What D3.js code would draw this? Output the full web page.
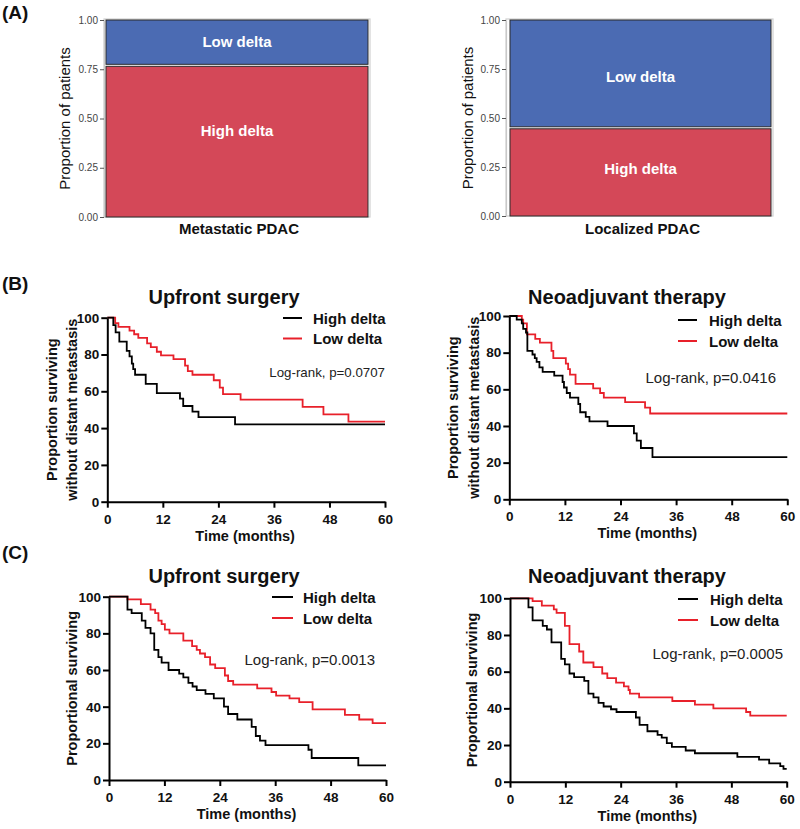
<!DOCTYPE html>
<html>
<head>
<meta charset="utf-8">
<script src="https://cdn.jsdelivr.net/npm/d3@7"></script>
<style>
  html, body { margin: 0; padding: 0; background: #fff; }
  svg { display: block; font-family: "Liberation Sans", Arial, Helvetica, sans-serif; }
</style>
</head>
<body>
<svg id="chart" width="800" height="829"></svg>
<script>
// ---------------- DATA ----------------
const panelLetters = ["(A)", "(B)", "(C)"];

// Panel A: mosaic (proportion of patients)
const mosaicCategories = ["Metastatic PDAC", "Localized PDAC"];
const highDeltaShare = [0.77, 0.45];
const lowDeltaShare = [0.23, 0.55];
const mosaicTicks = [0, 0.25, 0.5, 0.75, 1.0];
const mosaicTickLabels = ["0.00", "0.25", "0.50", "0.75", "1.00"];
const groupNames = ["High delta", "Low delta"];

// Panels B and C: Kaplan-Meier [month, percent surviving]
const kmTitles = ["Upfront surgery", "Neoadjuvant therapy", "Upfront surgery", "Neoadjuvant therapy"];
const kmPValues = ["Log-rank, p=0.0707", "Log-rank, p=0.0416", "Log-rank, p=0.0013", "Log-rank, p=0.0005"];
const kmYTitles = [["Proportion surviving", "without distant metastasis"], ["Proportional surviving"]];
const timeTicks = [0, 12, 24, 36, 48, 60];
const survivalTicks = [0, 20, 40, 60, 80, 100];
const xAxisTitle = "Time (months)";

const bUpfrontHigh = [[0,100],[1.3,96],[1.8,92],[2.6,87],[4.2,82],[4.8,79],[5.3,75],[5.6,72],[6.0,69],[8.3,64],[10.7,59],[15.7,56],[16.4,52],[18.4,49],[19.7,46],[27.6,42]];
const bUpfrontLow = [[0,100],[1.7,97],[2.4,95],[4.8,93],[5.8,91],[6.7,89],[8.6,86],[9.4,84],[10.7,81.5],[11.6,79.5],[14.3,77.5],[16.8,74],[17.4,71],[18.4,69],[23.0,66],[24.3,62],[25.0,58.5],[28.8,55.5],[42.2,51.5],[46.7,47.5],[52.1,43.5]];
const bNeoHigh = [[0,100],[1.6,98],[2.7,96],[3.0,93],[3.6,91],[3.9,81],[5.0,79],[5.5,77],[5.9,75],[6.5,72],[7.2,69.5],[9.7,67.5],[11.5,64],[11.8,61],[12.4,58],[13.1,55.5],[14.9,52],[15.3,47.5],[16.5,45],[17.3,42.5],[21.2,40],[26.9,36],[27.5,32],[28.4,28],[30.9,23]];
const bNeoLow = [[0,100],[2.7,98],[3.0,96],[3.8,90],[5.6,87.5],[6.6,85.5],[9.1,81],[9.5,77],[12.2,74],[12.7,71],[13.1,68],[14.3,63],[18.1,60.5],[19.6,58],[20.4,55.5],[25.0,53],[29.3,50],[30.4,46.8]];
const cUpfrontHigh = [[0,100],[4.0,93],[4.9,91],[7.1,87],[7.9,83],[9.0,80],[9.8,71],[10.7,67],[11.4,64],[12.9,60],[15.2,58],[16.1,56],[17.2,53],[18.1,51],[19.0,49],[20.9,47],[22.7,44.5],[24.9,40],[25.8,36],[27.8,33],[30.9,29],[31.8,24],[32.7,21.5],[33.9,19],[43.2,16.5],[43.9,12],[54.0,8]];
const cUpfrontLow = [[0,100],[4.0,98.5],[6.9,96],[9.0,93],[10.0,91],[10.7,87],[11.4,85],[12.1,82],[13.1,80],[16.1,76],[18.0,73],[19.0,71],[19.7,69],[20.8,67],[21.9,63],[23.0,61],[25.1,57],[25.8,54],[26.9,52],[32.1,50],[35.2,48],[36.2,46],[39.1,44.5],[41.2,42.5],[44.1,38.5],[51.1,35.5],[54.2,33],[57.1,31]];
const cNeoHigh = [[0,100],[4.0,95],[4.9,88],[7.1,85],[8.0,83],[9.0,76],[11.1,67],[11.9,64],[12.9,59],[13.9,57],[16.1,55],[17.0,48],[18.1,46],[19.2,43],[20.3,41],[21.9,39.5],[23.1,38],[27.3,35],[28.1,31],[29.8,27.5],[32.0,25.5],[32.9,24],[34.0,21],[35.1,19],[38.1,17],[40.1,15.5],[49.3,13.5],[54.0,12],[56.2,10],[58.6,8.5],[59.3,7]];
const cNeoLow = [[0,100],[4.9,98.5],[6.9,96],[9.5,94],[10.1,92],[11.9,85],[12.9,75],[15.0,71],[15.9,65],[18.1,62.5],[20.0,59],[21.1,56.5],[23.0,54],[24.7,52],[25.7,50],[26.0,48],[28.0,46],[35.2,44],[40.1,42],[44.1,40],[51.2,38],[52.1,36]];

// ---------------- DRAW ----------------
const svg = d3.select("#chart");
const FONT = '"Liberation Sans", Arial, Helvetica, sans-serif';
const BLUE = "#4b6bb3", RED = "#d44858", KM_RED = "#e8202a";

// panel letters
const letterY = [18.5, 290, 559];
panelLetters.forEach((t, i) => {
  svg.append("text").attr("x", 2).attr("y", letterY[i])
    .attr("font-size", 19).attr("font-weight", "bold").attr("fill", "#111").text(t);
});

// ---- Panel A mosaics ----
const mosaicLayout = [
  { axisX: 104, rectL: 106, rectR: 368, frameR: 370, top: 20, bottom: 217, yLabelX: 65, labelLow: 0.89, labelHigh: 0.44 },
  { axisX: 506, rectL: 510, rectR: 771, frameR: 773, top: 20, bottom: 216, yLabelX: 468, labelLow: 0.71, labelHigh: 0.24 }
];
mosaicCategories.forEach((cat, i) => {
  const L = mosaicLayout[i];
  const y = d3.scaleLinear().domain([0, 1]).range([L.bottom, L.top]);
  const x = d3.scaleLinear().domain([0, 1]).range([L.rectL, L.rectR]);
  const g = svg.append("g");
  // light frame
  g.append("rect").attr("x", L.axisX).attr("y", L.top - 1)
    .attr("width", L.frameR - L.axisX).attr("height", L.bottom - L.top + 1)
    .attr("fill", "none").attr("stroke", "#d0d0d0").attr("stroke-width", 1.2);
  // axis
  const ax = d3.axisLeft(y).tickValues(mosaicTicks).tickFormat((d, k) => mosaicTickLabels[k])
    .tickSize(4).tickPadding(2).tickSizeOuter(0);
  const axg = g.append("g").attr("transform", `translate(${L.axisX},0)`).call(ax);
  axg.select(".domain").attr("stroke", "#c8c8c8").attr("stroke-width", 1.2);
  axg.selectAll(".tick line").attr("stroke", "#555");
  axg.selectAll(".tick text").attr("font-size", 10).attr("fill", "#444").attr("font-family", FONT);
  // segments
  const segs = [
    { v0: 0, v1: highDeltaShare[i], color: RED, name: groupNames[0], lab: L.labelHigh },
    { v0: highDeltaShare[i], v1: highDeltaShare[i] + lowDeltaShare[i], color: BLUE, name: groupNames[1], lab: L.labelLow }
  ];
  segs.forEach((s, k) => {
    const y0 = y(s.v0) - (k === 1 ? 1 : 0);
    const y1 = y(s.v1) + (k === 0 ? 1 : 0);
    g.append("rect").attr("x", x(0)).attr("y", y1).attr("width", x(1) - x(0)).attr("height", y0 - y1)
      .attr("fill", s.color).attr("stroke", "#2a2a2a").attr("stroke-width", 1);
    g.append("text").attr("x", (x(0) + x(1)) / 2).attr("y", y(s.lab)).attr("dy", "0.35em")
      .attr("text-anchor", "middle").attr("font-size", 15).attr("font-weight", "bold")
      .attr("fill", "#fff").text(s.name);
  });
  // x label
  g.append("text").attr("x", (x(0) + x(1)) / 2 + 2).attr("y", 234).attr("text-anchor", "middle")
    .attr("font-size", 15).attr("font-weight", "bold").attr("fill", "#111").text(cat);
  // y label
  g.append("text").attr("transform", `translate(${L.yLabelX},${(L.top + L.bottom) / 2}) rotate(-90)`)
    .attr("dy", "0.35em").attr("text-anchor", "middle").attr("font-size", 15).attr("fill", "#111")
    .text("Proportion of patients");
});

// ---- Panels B, C Kaplan-Meier ----
const kmSeries = [
  [bUpfrontHigh, bUpfrontLow], [bNeoHigh, bNeoLow], [cUpfrontHigh, cUpfrontLow], [cNeoHigh, cNeoLow]
];
const kmLayout = [
  { x0: 107.3, x1: 385, top: 317.7, bot: 501.7, titleX: 224, titleY: 304, yt: 0, ytX: [52, 72],
    legLine: [283, 302], legY: [318, 338.5], legTextX: 313, pRight: 385, pY: 377, pSize: 13.3 },
  { x0: 509.3, x1: 787.3, top: 316, bot: 499.3, titleX: 627, titleY: 304, yt: 0, ytX: [453, 474],
    legLine: [678, 697], legY: [320, 341], legTextX: 709, pRight: 776, pY: 382.5, pSize: 15 },
  { x0: 109, x1: 386, top: 596.7, bot: 780, titleX: 224, titleY: 583, yt: 1, ytX: [72],
    legLine: [272, 293], legY: [597, 618], legTextX: 303, pRight: 375, pY: 665, pSize: 15 },
  { x0: 510, x1: 786.7, top: 598.3, bot: 781.7, titleX: 627, titleY: 583, yt: 1, ytX: [472],
    legLine: [678, 698], legY: [599, 620], legTextX: 710, pRight: 783, pY: 659, pSize: 15 }
];
const lineColors = ["#000", KM_RED];

kmLayout.forEach((L, i) => {
  const g = svg.append("g");
  const x = d3.scaleLinear().domain([0, 60]).range([L.x0, L.x1]);
  const y = d3.scaleLinear().domain([0, 100]).range([L.bot, L.top]);

  const line = d3.line().x(d => x(d[0])).y(d => y(d[1])).curve(d3.curveStepAfter);
  [1, 0].forEach(k => {
    const s = kmSeries[i][k];
    const data = s.concat([[60, s[s.length - 1][1]]]);
    g.append("path").datum(data).attr("d", line).attr("fill", "none")
      .attr("stroke", lineColors[k]).attr("stroke-width", 1.8);
  });

  // axes
  const xa = d3.axisBottom(x).tickValues(timeTicks).tickSize(6).tickPadding(3).tickSizeOuter(0);
  const ya = d3.axisLeft(y).tickValues(survivalTicks).tickSize(6).tickPadding(2).tickSizeOuter(0);
  const xg = g.append("g").attr("transform", `translate(0,${L.bot})`).call(xa);
  const yg = g.append("g").attr("transform", `translate(${L.x0},0)`).call(ya);
  [xg, yg].forEach(a => {
    a.select(".domain").attr("stroke", "#000").attr("stroke-width", 2);
    a.selectAll(".tick line").attr("stroke", "#000").attr("stroke-width", 2);
    a.selectAll(".tick text").attr("font-size", 13.5).attr("font-weight", "bold")
      .attr("fill", "#111").attr("font-family", FONT);
  });
  xg.selectAll(".tick text").attr("dy", "0.95em");

  // title
  g.append("text").attr("x", L.titleX).attr("y", L.titleY).attr("text-anchor", "middle")
    .attr("font-size", 20).attr("font-weight", "bold").attr("fill", "#111").text(kmTitles[i]);
  // x title
  g.append("text").attr("x", (L.x0 + L.x1) / 2 - 1).attr("y", L.bot + 39).attr("text-anchor", "middle")
    .attr("font-size", 14.5).attr("font-weight", "bold").attr("fill", "#111").text(xAxisTitle);
  // y title
  kmYTitles[L.yt].forEach((t, j) => {
    g.append("text").attr("transform", `translate(${L.ytX[j]},${(L.top + L.bot) / 2}) rotate(-90)`)
      .attr("dy", "0.35em").attr("text-anchor", "middle").attr("font-size", 14.5)
      .attr("font-weight", "bold").attr("fill", "#111").text(t);
  });
  // legend
  groupNames.forEach((n, k) => {
    g.append("line").attr("x1", L.legLine[0]).attr("x2", L.legLine[1])
      .attr("y1", L.legY[k]).attr("y2", L.legY[k]).attr("stroke", lineColors[k]).attr("stroke-width", 2);
    g.append("text").attr("x", L.legTextX).attr("y", L.legY[k] + 5.5)
      .attr("font-size", 15).attr("font-weight", "bold").attr("fill", "#111").text(n);
  });
  // p-value
  g.append("text").attr("x", L.pRight).attr("y", L.pY).attr("text-anchor", "end")
    .attr("font-size", L.pSize).attr("fill", "#222").text(kmPValues[i]);
});
</script>
</body>
</html>
